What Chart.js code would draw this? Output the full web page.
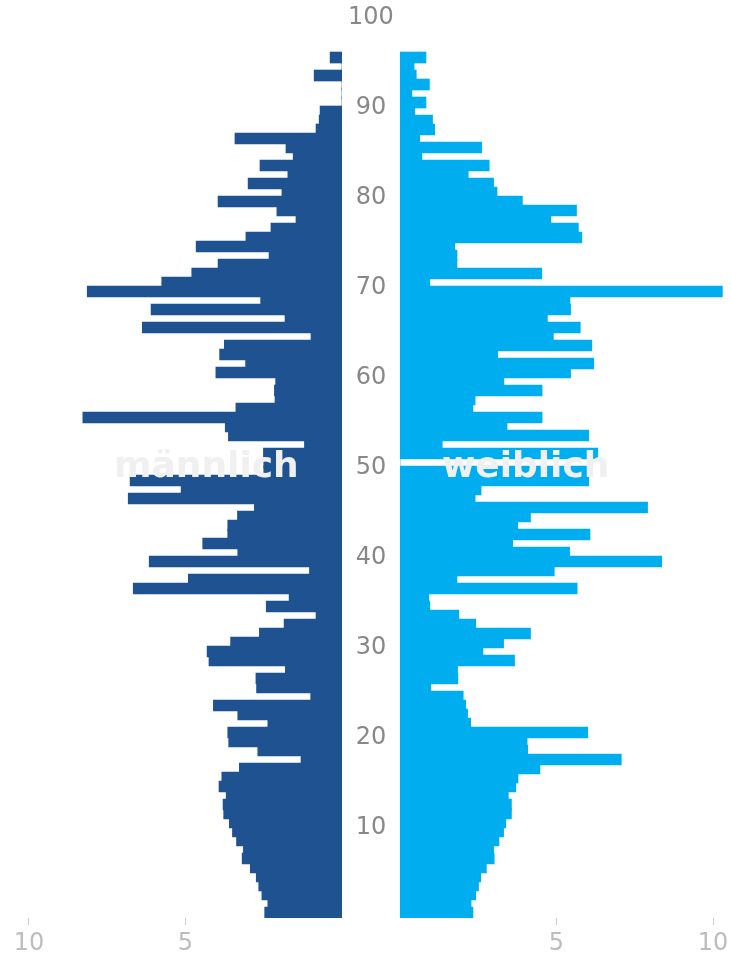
<!DOCTYPE html>
<html>
<head>
<meta charset="utf-8">
<script src="https://cdn.jsdelivr.net/npm/chart.js@4/dist/chart.umd.min.js"></script>
<style>
  html, body { margin: 0; padding: 0; background: #fff; }
  #wrap { position: relative; width: 731px; height: 957px; overflow: hidden; }
  #maleChart { position: absolute; left: 0; top: 0; }
  #femaleChart { position: absolute; left: 400px; top: 0; }
  .sex-label {
    position: absolute; top: 447px;
    font: bold 36px "DejaVu Sans", sans-serif; line-height: 36px;
    color: #f0f0f0; white-space: nowrap;
  }
</style>
</head>
<body>
<div id="wrap">
  <canvas id="maleChart" width="400" height="957"></canvas>
  <canvas id="femaleChart" width="331" height="957"></canvas>
  <div class="sex-label" style="left:114px">männlich</div>
  <div class="sex-label" style="left:442px">weiblich</div>
</div>
<script>
// Age groups (years), bottom to top
const ages = [
   0,  1,  2,  3,  4,  5,  6,  7,  8,  9,
  10, 11, 12, 13, 14, 15, 16, 17, 18, 19,
  20, 21, 22, 23, 24, 25, 26, 27, 28, 29,
  30, 31, 32, 33, 34, 35, 36, 37, 38, 39,
  40, 41, 42, 43, 44, 45, 46, 47, 48, 49,
  50, 51, 52, 53, 54, 55, 56, 57, 58, 59,
  60, 61, 62, 63, 64, 65, 66, 67, 68, 69,
  70, 71, 72, 73, 74, 75, 76, 77, 78, 79,
  80, 81, 82, 83, 84, 85, 86, 87, 88, 89,
  90, 91, 92, 93, 94, 95
];

// Share per age, male (männlich)
const male = [
  2.47, 2.37, 2.56, 2.66, 2.74, 2.93, 3.19, 3.15, 3.37, 3.50,
  3.60, 3.78, 3.80, 3.70, 3.93, 3.84, 3.28, 1.31, 2.69, 3.62,
  3.65, 2.37, 3.33, 4.11, 1.00, 2.73, 2.75, 1.81, 4.25, 4.31,
  3.56, 2.64, 1.85, 0.83, 2.42, 1.69, 6.67, 4.91, 1.04, 6.16,
  3.33, 4.45, 3.65, 3.65, 3.34, 2.80, 6.83, 5.14, 6.77, 2.50,
  2.50, 2.51, 1.20, 3.63, 3.73, 8.28, 3.39, 2.14, 2.16, 2.12,
  4.03, 3.08, 3.91, 3.76, 0.99, 6.38, 1.82, 6.10, 2.60, 8.14,
  5.76, 4.80, 3.96, 2.33, 4.66, 3.07, 2.27, 1.47, 2.08, 3.96,
  1.92, 3.00, 1.73, 2.62, 1.56, 1.79, 3.42, 0.83, 0.73, 0.70,
  0.00, 0.00, 0.00, 0.89, 0.00, 0.38
];

// Share per age, female (weiblich)
const female = [
  2.33, 2.27, 2.42, 2.51, 2.58, 2.76, 3.01, 2.99, 3.16, 3.31,
  3.38, 3.56, 3.56, 3.46, 3.70, 3.77, 4.47, 7.07, 4.08, 4.06,
  6.00, 2.26, 2.16, 2.10, 2.02, 0.98, 1.85, 1.84, 3.66, 2.65,
  3.31, 4.17, 2.42, 1.88, 0.95, 0.92, 5.66, 1.82, 4.93, 8.36,
  5.42, 3.60, 6.07, 3.76, 4.17, 7.91, 2.40, 2.59, 6.03, 6.03,
  0.00, 6.32, 1.35, 6.03, 3.42, 4.54, 2.33, 2.40, 4.54, 3.32,
  5.45, 6.19, 3.12, 6.13, 4.90, 5.76, 4.71, 5.45, 5.43, 10.30,
  0.95, 4.53, 1.82, 1.82, 1.75, 5.81, 5.70, 4.82, 5.64, 3.91,
  3.10, 2.99, 2.18, 2.85, 0.70, 2.61, 0.63, 1.11, 1.04, 0.47,
  0.83, 0.38, 0.94, 0.52, 0.45, 0.83
];

const ageTicks = [10, 20, 30, 40, 50, 60, 70, 80, 90, 100];
const valueTicks = [5, 10];

Chart.defaults.font.family = '"DejaVu Sans", sans-serif';

const pxPerUnit = 31.3;

// bars sit just above their age line and slightly overlap; younger ages drawn last
function barData(values) {
    return ages.map((age, i) => ({ x: values[i], y: age + 0.61 })).reverse();
}

function valueAxis(reverse, widthPx) {
    return {
        type: 'linear',
        min: 0,
        max: widthPx / pxPerUnit,
        reverse: reverse,
        z: 1,
        afterBuildTicks: scale => { scale.ticks = valueTicks.map(v => ({ value: v })); },
        afterFit: scale => {
            scale.height = 39;
            scale.paddingLeft = 0;
            scale.paddingRight = 0;
        },
        grid: {
            color: 'rgba(255, 255, 255, 0.25)',
            lineWidth: 1,
            drawTicks: true,
            tickLength: 7,
            tickColor: '#cccccc'
        },
        border: { display: false },
        ticks: {
            color: '#bdbdbd',
            font: { size: 24 },
            padding: 4,
            maxRotation: 0
        }
    };
}

const ageAxisBase = {
    type: 'linear',
    min: 0,
    max: 100,
    offset: false,
    grid: { display: false, drawTicks: false },
    border: { display: false }
};

const commonOptions = {
    indexAxis: 'y',
    responsive: false,
    animation: false,
    layout: { padding: { top: 18, left: 0, right: 0, bottom: 0 } },
    plugins: {
        legend: { display: false },
        tooltip: { enabled: false }
    }
};

// male side, axis runs leftwards, age labels in the middle gap
new Chart(document.getElementById('maleChart'), {
    type: 'bar',
    data: {
        datasets: [{
            label: 'männlich',
            data: barData(male),
            backgroundColor: '#1f5291',
            borderWidth: 0,
            barThickness: 11
        }]
    },
    options: {
        ...commonOptions,
        scales: {
            x: valueAxis(true, 342),
            y: {
                ...ageAxisBase,
                position: 'right',
                afterBuildTicks: scale => { scale.ticks = ageTicks.map(v => ({ value: v })); },
                afterFit: scale => {
                    scale.width = 58;
                    scale.paddingTop = 0;
                    scale.paddingBottom = 0;
                },
                ticks: {
                    color: '#888888',
                    font: { size: 24 },
                    padding: 6,
                    crossAlign: 'center'
                }
            }
        }
    }
});

// female side
new Chart(document.getElementById('femaleChart'), {
    type: 'bar',
    data: {
        datasets: [{
            label: 'weiblich',
            data: barData(female),
            backgroundColor: '#00aeef',
            borderWidth: 0,
            barThickness: 11
        }]
    },
    options: {
        ...commonOptions,
        scales: {
            x: valueAxis(false, 331),
            y: { ...ageAxisBase, display: false }
        }
    }
});
</script>
</body>
</html>
